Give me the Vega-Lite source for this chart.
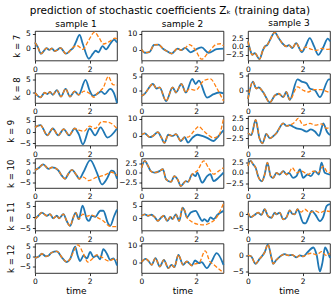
{
"$schema":"https://vega.github.io/schema/vega-lite/v6.json",
"title":{"text":"prediction of stochastic coefficients Zₖ (training data)","fontSize":10.5,"fontWeight":"normal","color":"#000","anchor":"middle","offset":2},
"columns":3,
"spacing":{"row":12.5,"column":24.5},
"bounds":"flush",
"config":{
"font":"DejaVu Sans",
"view":{"stroke":"#000","strokeWidth":0.8},
"axis":{"domain":false,"grid":false,"tickColor":"#000","tickWidth":0.8,"tickSize":2.6,"labelFontSize":7.5,"labelColor":"#000","labelPadding":2,"titleFontWeight":"normal","titleColor":"#000","labelOverlap":false,"labelBound":false},
"axisY":{"titleFontSize":8.5,"titlePadding":4},
"axisX":{"titleFontSize":9,"titlePadding":1,"labelFlush":false},
"title":{"fontSize":9,"fontWeight":"normal","color":"#000","offset":1},
"line":{"interpolate":"monotone","clip":true}
},
"datasets":{
"a71":[{"t":0,"v":2.0},{"t":0.1,"v":0.5},{"t":0.22,"v":-1.8},{"t":0.32,"v":-0.9},{"t":0.42,"v":0.1},{"t":0.52,"v":-0.5},{"t":0.62,"v":0.0},{"t":0.72,"v":-0.9},{"t":0.82,"v":-0.5},{"t":0.93,"v":0.2},{"t":1.13,"v":-1.8},{"t":1.3,"v":-0.6},{"t":1.4,"v":0.2},{"t":1.5,"v":2.2},{"t":1.63,"v":4.6},{"t":1.75,"v":1.5},{"t":1.97,"v":-3.5},{"t":2.12,"v":-1.8},{"t":2.22,"v":-0.8},{"t":2.32,"v":-1.3},{"t":2.47,"v":0.8},{"t":2.6,"v":-0.3},{"t":2.75,"v":1.5},{"t":2.9,"v":3.0},{"t":3.0,"v":2.0}],
"b71":[{"t":0,"v":2.0},{"t":0.1,"v":0.5},{"t":0.22,"v":-1.8},{"t":0.32,"v":-0.9},{"t":0.42,"v":0.1},{"t":0.52,"v":-0.5},{"t":0.62,"v":0.0},{"t":0.72,"v":-0.9},{"t":0.82,"v":-0.5},{"t":0.93,"v":0.2},{"t":1.13,"v":-1.8},{"t":1.3,"v":-0.6},{"t":1.42,"v":0.6},{"t":1.55,"v":0.9},{"t":1.75,"v":-0.3},{"t":1.95,"v":2.5},{"t":2.18,"v":5.5},{"t":2.35,"v":3.5},{"t":2.5,"v":1.5},{"t":2.7,"v":2.2},{"t":2.93,"v":3.5},{"t":3.0,"v":3.2}],
"a72":[{"t":0,"v":0.3},{"t":0.12,"v":-1.8},{"t":0.3,"v":-1.2},{"t":0.46,"v":3.1},{"t":0.62,"v":3.3},{"t":0.8,"v":0.5},{"t":0.95,"v":-1.0},{"t":1.1,"v":-2.3},{"t":1.32,"v":0.8},{"t":1.45,"v":-0.2},{"t":1.6,"v":1.2},{"t":1.8,"v":-1.5},{"t":2.05,"v":0.8},{"t":2.2,"v":1.5},{"t":2.45,"v":-1.8},{"t":2.75,"v":0.4},{"t":3.0,"v":0.8}],
"b72":[{"t":0,"v":0.3},{"t":0.12,"v":-1.8},{"t":0.3,"v":-1.2},{"t":0.46,"v":3.1},{"t":0.62,"v":3.3},{"t":0.8,"v":0.5},{"t":0.95,"v":-1.0},{"t":1.1,"v":-2.3},{"t":1.32,"v":0.8},{"t":1.45,"v":-0.2},{"t":1.6,"v":1.2},{"t":1.75,"v":3.3},{"t":1.95,"v":0.5},{"t":2.2,"v":-5.8},{"t":2.45,"v":-1.5},{"t":2.75,"v":3.5},{"t":2.9,"v":3.8},{"t":3.0,"v":2.5}],
"a73":[{"t":0,"v":1.5},{"t":0.08,"v":-1.0},{"t":0.15,"v":-2.5},{"t":0.25,"v":-2.0},{"t":0.42,"v":-3.8},{"t":0.55,"v":-1.0},{"t":0.62,"v":0.0},{"t":0.7,"v":0.4},{"t":0.78,"v":1.5},{"t":0.98,"v":4.2},{"t":1.12,"v":2.5},{"t":1.25,"v":1.0},{"t":1.4,"v":0.0},{"t":1.5,"v":0.4},{"t":1.62,"v":-0.5},{"t":1.76,"v":1.0},{"t":1.97,"v":-1.7},{"t":2.1,"v":0.0},{"t":2.26,"v":2.5},{"t":2.42,"v":0.0},{"t":2.57,"v":-2.5},{"t":2.75,"v":-0.3},{"t":2.92,"v":2.3},{"t":3.0,"v":1.5}],
"b73":[{"t":0,"v":1.5},{"t":0.08,"v":-1.0},{"t":0.15,"v":-2.5},{"t":0.25,"v":-2.0},{"t":0.42,"v":-3.8},{"t":0.55,"v":-1.0},{"t":0.62,"v":0.0},{"t":0.7,"v":0.4},{"t":0.78,"v":1.5},{"t":0.98,"v":4.2},{"t":1.12,"v":2.5},{"t":1.25,"v":1.0},{"t":1.4,"v":0.0},{"t":1.5,"v":0.4},{"t":1.62,"v":-0.5},{"t":1.76,"v":1.0},{"t":1.95,"v":-1.3},{"t":2.1,"v":-0.2},{"t":2.3,"v":-0.8},{"t":2.5,"v":-1.2},{"t":2.7,"v":-0.6},{"t":2.85,"v":-0.9},{"t":3.0,"v":-0.8}],
"a81":[{"t":0,"v":0.0},{"t":0.2,"v":-1.8},{"t":0.35,"v":0.0},{"t":0.45,"v":-0.5},{"t":0.55,"v":0.3},{"t":0.65,"v":-0.8},{"t":0.8,"v":1.0},{"t":0.95,"v":-1.5},{"t":1.12,"v":1.5},{"t":1.28,"v":-1.5},{"t":1.45,"v":0.5},{"t":1.6,"v":-0.8},{"t":1.85,"v":5.0},{"t":2.0,"v":0.8},{"t":2.12,"v":-1.2},{"t":2.3,"v":-0.3},{"t":2.42,"v":0.5},{"t":2.55,"v":-0.5},{"t":2.75,"v":1.5},{"t":2.88,"v":0.0},{"t":3.0,"v":-4.0}],
"b81":[{"t":0,"v":0.0},{"t":0.2,"v":-1.8},{"t":0.35,"v":0.0},{"t":0.45,"v":-0.5},{"t":0.55,"v":0.3},{"t":0.65,"v":-0.8},{"t":0.8,"v":1.0},{"t":0.95,"v":-1.5},{"t":1.12,"v":1.5},{"t":1.28,"v":-1.5},{"t":1.45,"v":0.5},{"t":1.6,"v":-0.8},{"t":1.8,"v":0.6},{"t":2.0,"v":-0.3},{"t":2.15,"v":-1.8},{"t":2.3,"v":0.0},{"t":2.5,"v":2.0},{"t":2.68,"v":6.3},{"t":2.85,"v":3.2},{"t":3.0,"v":3.0}],
"a82":[{"t":0,"v":-1.8},{"t":0.1,"v":-1.2},{"t":0.42,"v":2.4},{"t":0.55,"v":0.8},{"t":0.66,"v":1.2},{"t":0.9,"v":-3.6},{"t":1.14,"v":1.2},{"t":1.26,"v":-0.6},{"t":1.46,"v":2.4},{"t":1.62,"v":-0.6},{"t":1.86,"v":4.2},{"t":1.98,"v":2.4},{"t":2.1,"v":3.6},{"t":2.4,"v":-2.4},{"t":2.64,"v":-1.2},{"t":2.85,"v":-0.6},{"t":3.0,"v":-0.9}],
"b82":[{"t":0,"v":-1.8},{"t":0.1,"v":-1.2},{"t":0.42,"v":2.4},{"t":0.55,"v":0.8},{"t":0.66,"v":1.2},{"t":0.9,"v":-3.6},{"t":1.14,"v":1.2},{"t":1.26,"v":-0.6},{"t":1.46,"v":2.4},{"t":1.62,"v":-0.6},{"t":1.74,"v":0.6},{"t":1.98,"v":0.2},{"t":2.28,"v":3.6},{"t":2.52,"v":4.2},{"t":2.75,"v":1.0},{"t":3.0,"v":-3.6}],
"a83":[{"t":0,"v":-3.0},{"t":0.18,"v":3.0},{"t":0.3,"v":0.6},{"t":0.39,"v":1.0},{"t":0.55,"v":-0.6},{"t":0.8,"v":-4.2},{"t":0.98,"v":-1.8},{"t":1.13,"v":-1.2},{"t":1.29,"v":-2.4},{"t":1.4,"v":-0.6},{"t":1.53,"v":-3.3},{"t":1.81,"v":3.8},{"t":1.96,"v":3.0},{"t":2.14,"v":2.4},{"t":2.26,"v":0.6},{"t":2.45,"v":0.0},{"t":2.63,"v":-2.4},{"t":2.96,"v":3.8},{"t":3.0,"v":3.8}],
"b83":[{"t":0,"v":-3.0},{"t":0.18,"v":3.0},{"t":0.3,"v":0.6},{"t":0.39,"v":1.0},{"t":0.55,"v":-0.6},{"t":0.8,"v":-4.2},{"t":0.98,"v":-1.8},{"t":1.13,"v":-1.2},{"t":1.29,"v":-2.4},{"t":1.4,"v":-0.6},{"t":1.53,"v":-3.3},{"t":1.81,"v":1.2},{"t":2.02,"v":0.0},{"t":2.2,"v":-0.6},{"t":2.39,"v":0.2},{"t":2.69,"v":0.2},{"t":2.96,"v":-0.6},{"t":3.0,"v":-0.5}],
"a91":[{"t":0,"v":2.0},{"t":0.2,"v":3.0},{"t":0.45,"v":-1.5},{"t":0.65,"v":1.5},{"t":0.85,"v":-1.5},{"t":1.05,"v":1.2},{"t":1.25,"v":-1.5},{"t":1.45,"v":1.5},{"t":1.6,"v":-1.0},{"t":1.75,"v":-5.5},{"t":2.0,"v":1.5},{"t":2.2,"v":-1.5},{"t":2.4,"v":2.0},{"t":2.65,"v":-2.5},{"t":3.0,"v":1.5}],
"b91":[{"t":0,"v":2.0},{"t":0.2,"v":3.0},{"t":0.45,"v":-1.5},{"t":0.65,"v":1.5},{"t":0.85,"v":-1.5},{"t":1.05,"v":1.2},{"t":1.25,"v":-1.5},{"t":1.45,"v":1.5},{"t":1.6,"v":0.8},{"t":1.8,"v":0.3},{"t":2.0,"v":2.5},{"t":2.2,"v":1.5},{"t":2.45,"v":4.5},{"t":2.7,"v":4.2},{"t":3.0,"v":1.5}],
"a92":[{"t":0,"v":0.7},{"t":0.12,"v":1.5},{"t":0.3,"v":-0.7},{"t":0.42,"v":0.0},{"t":0.6,"v":2.2},{"t":0.72,"v":-0.7},{"t":0.84,"v":-4.0},{"t":0.98,"v":0.7},{"t":1.14,"v":0.0},{"t":1.26,"v":1.0},{"t":1.44,"v":-2.9},{"t":1.58,"v":-0.7},{"t":1.7,"v":-3.8},{"t":1.86,"v":-1.1},{"t":2.04,"v":0.7},{"t":2.22,"v":0.0},{"t":2.4,"v":-1.1},{"t":2.64,"v":-2.9},{"t":2.76,"v":-1.1},{"t":2.86,"v":0.7},{"t":3.0,"v":3.3}],
"b92":[{"t":0,"v":0.7},{"t":0.12,"v":1.5},{"t":0.3,"v":-0.7},{"t":0.42,"v":0.0},{"t":0.6,"v":2.2},{"t":0.72,"v":-0.7},{"t":0.84,"v":-4.0},{"t":0.98,"v":0.7},{"t":1.14,"v":0.0},{"t":1.26,"v":1.0},{"t":1.44,"v":-2.9},{"t":1.58,"v":-0.7},{"t":1.7,"v":-0.7},{"t":1.92,"v":2.9},{"t":2.1,"v":5.5},{"t":2.22,"v":3.8},{"t":2.4,"v":1.1},{"t":2.64,"v":-1.1},{"t":2.82,"v":0.0},{"t":3.0,"v":10.0}],
"a93":[{"t":0,"v":-1.2},{"t":0.12,"v":-1.7},{"t":0.28,"v":2.1},{"t":0.42,"v":-2.5},{"t":0.53,"v":-3.75},{"t":0.67,"v":-1.4},{"t":0.8,"v":-2.5},{"t":0.92,"v":-2.0},{"t":1.04,"v":-1.2},{"t":1.29,"v":1.25},{"t":1.41,"v":0.6},{"t":1.53,"v":0.8},{"t":1.65,"v":0.4},{"t":1.77,"v":0.0},{"t":1.96,"v":-0.25},{"t":2.14,"v":-0.8},{"t":2.3,"v":-0.25},{"t":2.45,"v":-0.8},{"t":2.6,"v":-1.9},{"t":2.69,"v":0.0},{"t":2.75,"v":1.25},{"t":2.9,"v":-1.0},{"t":3.0,"v":-1.7}],
"b93":[{"t":0,"v":-1.2},{"t":0.12,"v":-1.7},{"t":0.28,"v":2.1},{"t":0.42,"v":-2.5},{"t":0.53,"v":-3.75},{"t":0.67,"v":-1.4},{"t":0.8,"v":-2.5},{"t":0.92,"v":-2.0},{"t":1.04,"v":-1.2},{"t":1.29,"v":1.25},{"t":1.41,"v":0.6},{"t":1.53,"v":0.8},{"t":1.7,"v":1.5},{"t":1.84,"v":2.5},{"t":2.02,"v":0.8},{"t":2.27,"v":1.25},{"t":2.45,"v":0.8},{"t":2.69,"v":1.1},{"t":2.88,"v":0.0},{"t":3.0,"v":0.25}],
"a101":[{"t":0,"v":1.0},{"t":0.12,"v":2.0},{"t":0.3,"v":4.0},{"t":0.5,"v":1.7},{"t":0.62,"v":2.5},{"t":0.73,"v":2.2},{"t":0.86,"v":0.8},{"t":0.98,"v":-1.7},{"t":1.1,"v":-3.3},{"t":1.22,"v":-0.8},{"t":1.35,"v":1.2},{"t":1.53,"v":-1.7},{"t":1.62,"v":-3.3},{"t":1.77,"v":0.0},{"t":2.02,"v":6.2},{"t":2.26,"v":0.0},{"t":2.45,"v":-6.2},{"t":2.63,"v":-3.3},{"t":2.8,"v":0.8},{"t":2.88,"v":0.5},{"t":3.0,"v":-3.3}],
"b101":[{"t":0,"v":1.0},{"t":0.12,"v":2.0},{"t":0.3,"v":4.0},{"t":0.5,"v":1.7},{"t":0.62,"v":2.5},{"t":0.73,"v":2.2},{"t":0.86,"v":0.8},{"t":0.98,"v":-1.7},{"t":1.1,"v":-3.3},{"t":1.22,"v":-0.8},{"t":1.35,"v":1.2},{"t":1.53,"v":-1.7},{"t":1.62,"v":-3.3},{"t":1.77,"v":-2.5},{"t":1.96,"v":-4.2},{"t":2.26,"v":-2.5},{"t":2.5,"v":-1.7},{"t":2.8,"v":0.0},{"t":3.0,"v":-1.7}],
"a102":[{"t":0,"v":1.3},{"t":0.12,"v":3.1},{"t":0.24,"v":1.75},{"t":0.34,"v":0.4},{"t":0.48,"v":0.0},{"t":0.66,"v":0.4},{"t":0.78,"v":0.9},{"t":0.9,"v":-1.75},{"t":1.08,"v":-2.4},{"t":1.2,"v":-0.9},{"t":1.32,"v":-1.75},{"t":1.44,"v":-3.5},{"t":1.62,"v":-2.2},{"t":1.7,"v":-2.4},{"t":1.86,"v":-0.4},{"t":1.98,"v":-0.9},{"t":2.04,"v":0.0},{"t":2.22,"v":-2.6},{"t":2.4,"v":-0.9},{"t":2.52,"v":-0.4},{"t":2.64,"v":-2.2},{"t":2.82,"v":-1.3},{"t":3.0,"v":0.0}],
"b102":[{"t":0,"v":1.3},{"t":0.12,"v":3.1},{"t":0.24,"v":1.75},{"t":0.34,"v":0.4},{"t":0.48,"v":0.0},{"t":0.66,"v":0.4},{"t":0.78,"v":0.9},{"t":0.9,"v":-1.75},{"t":1.08,"v":-2.4},{"t":1.2,"v":-0.9},{"t":1.32,"v":-1.75},{"t":1.44,"v":-3.5},{"t":1.62,"v":-2.2},{"t":1.7,"v":-2.4},{"t":1.86,"v":-0.4},{"t":2.04,"v":0.5},{"t":2.28,"v":3.1},{"t":2.45,"v":1.3},{"t":2.64,"v":-0.4},{"t":2.82,"v":0.4},{"t":3.0,"v":1.3}],
"a103":[{"t":0,"v":1.6},{"t":0.09,"v":2.9},{"t":0.19,"v":2.0},{"t":0.28,"v":1.2},{"t":0.37,"v":-0.8},{"t":0.51,"v":-2.0},{"t":0.61,"v":-0.4},{"t":0.71,"v":2.4},{"t":0.83,"v":-0.8},{"t":0.92,"v":-1.2},{"t":1.04,"v":0.0},{"t":1.16,"v":-0.4},{"t":1.29,"v":0.4},{"t":1.41,"v":-0.4},{"t":1.5,"v":0.0},{"t":1.65,"v":-1.2},{"t":1.77,"v":-0.8},{"t":1.9,"v":0.8},{"t":2.02,"v":-1.2},{"t":2.18,"v":-0.4},{"t":2.3,"v":-0.8},{"t":2.45,"v":0.4},{"t":2.59,"v":-0.4},{"t":2.69,"v":2.4},{"t":2.81,"v":0.0},{"t":3.0,"v":-0.4}],
"b103":[{"t":0,"v":1.6},{"t":0.09,"v":2.9},{"t":0.19,"v":2.0},{"t":0.28,"v":1.2},{"t":0.37,"v":-0.8},{"t":0.51,"v":-2.0},{"t":0.61,"v":-0.4},{"t":0.71,"v":2.4},{"t":0.83,"v":-0.8},{"t":0.92,"v":-1.2},{"t":1.04,"v":0.0},{"t":1.16,"v":-0.4},{"t":1.29,"v":0.4},{"t":1.41,"v":-0.4},{"t":1.5,"v":0.0},{"t":1.62,"v":1.2},{"t":1.77,"v":0.0},{"t":1.95,"v":0.4},{"t":2.2,"v":-0.4},{"t":2.39,"v":0.4},{"t":2.57,"v":0.0},{"t":2.75,"v":1.6},{"t":2.9,"v":0.2},{"t":3.0,"v":0.0}],
"a111":[{"t":0,"v":-1.0},{"t":0.12,"v":0.5},{"t":0.25,"v":1.9},{"t":0.43,"v":0.5},{"t":0.55,"v":1.2},{"t":0.67,"v":-0.6},{"t":0.8,"v":0.5},{"t":0.88,"v":-0.6},{"t":1.04,"v":1.2},{"t":1.16,"v":-1.8},{"t":1.28,"v":-4.0},{"t":1.41,"v":0.0},{"t":1.49,"v":1.9},{"t":1.6,"v":-1.0},{"t":1.74,"v":4.9},{"t":1.9,"v":-1.0},{"t":1.98,"v":-1.8},{"t":2.08,"v":0.5},{"t":2.2,"v":0.0},{"t":2.39,"v":2.7},{"t":2.5,"v":2.7},{"t":2.66,"v":-2.5},{"t":2.75,"v":-4.0},{"t":2.9,"v":0.5},{"t":3.0,"v":3.2}],
"b111":[{"t":0,"v":-1.0},{"t":0.12,"v":0.5},{"t":0.25,"v":1.9},{"t":0.43,"v":0.5},{"t":0.55,"v":1.2},{"t":0.67,"v":-0.6},{"t":0.8,"v":0.5},{"t":0.88,"v":-0.6},{"t":1.04,"v":1.2},{"t":1.16,"v":-1.8},{"t":1.28,"v":-4.0},{"t":1.41,"v":0.0},{"t":1.49,"v":1.9},{"t":1.6,"v":-1.0},{"t":1.75,"v":1.2},{"t":1.9,"v":0.3},{"t":2.05,"v":0.8},{"t":2.2,"v":0.2},{"t":2.5,"v":-1.8},{"t":2.75,"v":-4.2},{"t":3.0,"v":-4.3}],
"a112":[{"t":0,"v":1.0},{"t":0.12,"v":1.6},{"t":0.24,"v":1.0},{"t":0.36,"v":1.4},{"t":0.48,"v":0.5},{"t":0.6,"v":-1.1},{"t":0.72,"v":0.3},{"t":0.82,"v":1.0},{"t":0.94,"v":-1.1},{"t":1.06,"v":0.5},{"t":1.14,"v":-0.4},{"t":1.26,"v":1.6},{"t":1.38,"v":-1.1},{"t":1.5,"v":4.3},{"t":1.58,"v":3.0},{"t":1.66,"v":0.3},{"t":1.8,"v":2.3},{"t":1.98,"v":3.0},{"t":2.13,"v":0.3},{"t":2.22,"v":-1.1},{"t":2.3,"v":-0.4},{"t":2.42,"v":-1.4},{"t":2.52,"v":0.3},{"t":2.64,"v":-0.4},{"t":2.78,"v":1.4},{"t":3.0,"v":3.0}],
"b112":[{"t":0,"v":1.0},{"t":0.12,"v":1.6},{"t":0.24,"v":1.0},{"t":0.36,"v":1.4},{"t":0.48,"v":0.5},{"t":0.6,"v":-1.1},{"t":0.72,"v":0.3},{"t":0.82,"v":1.0},{"t":0.94,"v":-1.1},{"t":1.06,"v":0.5},{"t":1.14,"v":-0.4},{"t":1.26,"v":1.6},{"t":1.38,"v":-1.1},{"t":1.5,"v":4.3},{"t":1.58,"v":3.0},{"t":1.66,"v":0.3},{"t":1.8,"v":-1.1},{"t":2.04,"v":-2.4},{"t":2.28,"v":-2.7},{"t":2.52,"v":-1.8},{"t":2.7,"v":-0.4},{"t":2.88,"v":3.0},{"t":3.0,"v":6.0}],
"a113":[{"t":0,"v":0.6},{"t":0.1,"v":-1.0},{"t":0.24,"v":-0.2},{"t":0.37,"v":0.6},{"t":0.49,"v":-0.2},{"t":0.61,"v":1.8},{"t":0.73,"v":-0.6},{"t":0.86,"v":-1.2},{"t":0.98,"v":0.6},{"t":1.04,"v":0.0},{"t":1.16,"v":0.6},{"t":1.29,"v":-1.8},{"t":1.41,"v":-1.0},{"t":1.53,"v":1.4},{"t":1.62,"v":0.2},{"t":1.71,"v":0.0},{"t":1.81,"v":1.8},{"t":2.02,"v":-3.0},{"t":2.1,"v":-3.2},{"t":2.22,"v":-1.0},{"t":2.33,"v":1.2},{"t":2.47,"v":-0.2},{"t":2.63,"v":-2.4},{"t":2.75,"v":-1.0},{"t":2.88,"v":3.0},{"t":3.0,"v":3.6}],
"b113":[{"t":0,"v":0.6},{"t":0.1,"v":-1.0},{"t":0.24,"v":-0.2},{"t":0.37,"v":0.6},{"t":0.49,"v":-0.2},{"t":0.61,"v":1.8},{"t":0.73,"v":-0.6},{"t":0.86,"v":-1.2},{"t":0.98,"v":0.6},{"t":1.04,"v":0.0},{"t":1.16,"v":0.6},{"t":1.29,"v":-1.8},{"t":1.41,"v":-1.0},{"t":1.53,"v":1.4},{"t":1.62,"v":0.2},{"t":1.71,"v":0.0},{"t":1.81,"v":1.8},{"t":1.95,"v":0.8},{"t":2.08,"v":1.8},{"t":2.26,"v":0.6},{"t":2.45,"v":1.2},{"t":2.63,"v":0.6},{"t":2.82,"v":1.2},{"t":3.0,"v":1.0}],
"a121":[{"t":0,"v":-0.9},{"t":0.15,"v":0.0},{"t":0.25,"v":1.3},{"t":0.4,"v":0.0},{"t":0.5,"v":0.4},{"t":0.6,"v":1.8},{"t":0.8,"v":2.5},{"t":0.98,"v":-0.5},{"t":1.16,"v":-2.9},{"t":1.28,"v":-1.5},{"t":1.47,"v":4.9},{"t":1.56,"v":0.4},{"t":1.65,"v":-2.4},{"t":1.78,"v":0.4},{"t":1.9,"v":-1.1},{"t":2.02,"v":2.2},{"t":2.14,"v":-0.5},{"t":2.26,"v":0.4},{"t":2.38,"v":-1.5},{"t":2.5,"v":3.6},{"t":2.63,"v":1.3},{"t":2.75,"v":-1.8},{"t":2.87,"v":-1.1},{"t":3.0,"v":-4.7}],
"b121":[{"t":0,"v":-0.9},{"t":0.15,"v":0.0},{"t":0.25,"v":1.3},{"t":0.4,"v":0.0},{"t":0.5,"v":0.4},{"t":0.6,"v":1.8},{"t":0.8,"v":2.5},{"t":0.98,"v":-0.5},{"t":1.16,"v":-2.9},{"t":1.28,"v":-1.5},{"t":1.4,"v":2.0},{"t":1.57,"v":5.8},{"t":1.77,"v":1.3},{"t":1.93,"v":-2.9},{"t":2.08,"v":-1.5},{"t":2.26,"v":0.7},{"t":2.45,"v":-0.5},{"t":2.7,"v":-2.4},{"t":2.87,"v":-1.5},{"t":3.0,"v":-1.8}],
"a122":[{"t":0,"v":0.0},{"t":0.15,"v":2.0},{"t":0.25,"v":0.8},{"t":0.37,"v":-1.6},{"t":0.51,"v":2.4},{"t":0.67,"v":-2.6},{"t":0.82,"v":1.4},{"t":0.98,"v":-3.6},{"t":1.1,"v":-1.6},{"t":1.2,"v":-3.0},{"t":1.35,"v":4.4},{"t":1.52,"v":-1.6},{"t":1.66,"v":0.4},{"t":1.84,"v":-2.0},{"t":1.96,"v":1.0},{"t":2.1,"v":-0.5},{"t":2.2,"v":0.0},{"t":2.39,"v":-3.6},{"t":2.55,"v":0.0},{"t":2.75,"v":5.4},{"t":3.0,"v":-1.6}],
"b122":[{"t":0,"v":0.0},{"t":0.15,"v":2.0},{"t":0.25,"v":0.8},{"t":0.37,"v":-1.6},{"t":0.51,"v":2.4},{"t":0.67,"v":-2.6},{"t":0.82,"v":1.4},{"t":0.98,"v":-3.6},{"t":1.1,"v":-1.6},{"t":1.2,"v":-3.0},{"t":1.35,"v":4.4},{"t":1.52,"v":-1.6},{"t":1.66,"v":0.4},{"t":1.84,"v":-2.0},{"t":1.96,"v":-1.0},{"t":2.1,"v":-0.6},{"t":2.33,"v":6.8},{"t":2.5,"v":0.4},{"t":2.65,"v":-1.6},{"t":3.0,"v":-6.4}],
"a123":[{"t":0,"v":0.0},{"t":0.12,"v":-0.3},{"t":0.27,"v":-2.6},{"t":0.43,"v":-1.0},{"t":0.61,"v":1.0},{"t":0.73,"v":3.5},{"t":0.86,"v":-0.8},{"t":0.92,"v":-2.6},{"t":1.04,"v":-1.4},{"t":1.22,"v":0.0},{"t":1.35,"v":0.4},{"t":1.47,"v":0.0},{"t":1.62,"v":0.2},{"t":1.77,"v":-0.6},{"t":1.9,"v":0.0},{"t":2.02,"v":-0.3},{"t":2.18,"v":1.0},{"t":2.39,"v":2.5},{"t":2.51,"v":0.2},{"t":2.63,"v":-5.0},{"t":2.72,"v":-2.4},{"t":2.82,"v":2.5},{"t":2.92,"v":1.0},{"t":3.0,"v":-0.8}],
"b123":[{"t":0,"v":0.0},{"t":0.12,"v":-0.3},{"t":0.27,"v":-2.6},{"t":0.43,"v":-1.0},{"t":0.61,"v":1.0},{"t":0.73,"v":3.5},{"t":0.86,"v":-0.8},{"t":0.92,"v":-2.6},{"t":1.04,"v":-1.4},{"t":1.22,"v":0.0},{"t":1.35,"v":0.4},{"t":1.47,"v":0.0},{"t":1.62,"v":0.2},{"t":1.77,"v":-0.6},{"t":1.9,"v":0.0},{"t":2.02,"v":-0.3},{"t":2.18,"v":0.4},{"t":2.33,"v":0.7},{"t":2.51,"v":0.2},{"t":2.69,"v":1.2},{"t":2.86,"v":0.0},{"t":3.0,"v":0.7}]
},
"concat":[
{"width":82,"height":29.5,"title":"sample 1","encoding":{"x":{"field":"t","type":"quantitative","scale":{"domain":[0,3],"nice":false},"axis":{"values":[0,2],"title":null}},"y":{"field":"v","type":"quantitative","scale":{"domain":[-4.1,5.9],"nice":false,"zero":false},"axis":{"values":[0,5],"format":"d","title":"k = 7"}}},"layer":[{"data":{"name":"a71"},"mark":{"type":"line","color":"#1f77b4","strokeWidth":1.8}},{"data":{"name":"b71"},"mark":{"type":"line","color":"#ff7f0e","strokeWidth":1.3,"strokeDash":[4,2]}}]},
{"width":82,"height":29.5,"title":"sample 2","encoding":{"x":{"field":"t","type":"quantitative","scale":{"domain":[0,3],"nice":false},"axis":{"values":[0,2],"title":null}},"y":{"field":"v","type":"quantitative","scale":{"domain":[-6.6,11.7],"nice":false,"zero":false},"axis":{"values":[0,10],"format":"d","title":null}}},"layer":[{"data":{"name":"a72"},"mark":{"type":"line","color":"#1f77b4","strokeWidth":1.8}},{"data":{"name":"b72"},"mark":{"type":"line","color":"#ff7f0e","strokeWidth":1.3,"strokeDash":[4,2]}}]},
{"width":82,"height":29.5,"title":"sample 3","encoding":{"x":{"field":"t","type":"quantitative","scale":{"domain":[0,3],"nice":false},"axis":{"values":[0,2],"title":null}},"y":{"field":"v","type":"quantitative","scale":{"domain":[-4.2,4.6],"nice":false,"zero":false},"axis":{"values":[-2.5,0,2.5],"format":".1f","title":null}}},"layer":[{"data":{"name":"a73"},"mark":{"type":"line","color":"#1f77b4","strokeWidth":1.8}},{"data":{"name":"b73"},"mark":{"type":"line","color":"#ff7f0e","strokeWidth":1.3,"strokeDash":[4,2]}}]},
{"width":82,"height":29.5,"encoding":{"x":{"field":"t","type":"quantitative","scale":{"domain":[0,3],"nice":false},"axis":{"values":[0,2],"title":null}},"y":{"field":"v","type":"quantitative","scale":{"domain":[-4,7.5],"nice":false,"zero":false},"axis":{"values":[0,5],"format":"d","title":"k = 8"}}},"layer":[{"data":{"name":"a81"},"mark":{"type":"line","color":"#1f77b4","strokeWidth":1.8}},{"data":{"name":"b81"},"mark":{"type":"line","color":"#ff7f0e","strokeWidth":1.3,"strokeDash":[4,2]}}]},
{"width":82,"height":29.5,"encoding":{"x":{"field":"t","type":"quantitative","scale":{"domain":[0,3],"nice":false},"axis":{"values":[0,2],"title":null}},"y":{"field":"v","type":"quantitative","scale":{"domain":[-4.3,6.1],"nice":false,"zero":false},"axis":{"values":[0,5],"format":"d","title":null}}},"layer":[{"data":{"name":"a82"},"mark":{"type":"line","color":"#1f77b4","strokeWidth":1.8}},{"data":{"name":"b82"},"mark":{"type":"line","color":"#ff7f0e","strokeWidth":1.3,"strokeDash":[4,2]}}]},
{"width":82,"height":29.5,"encoding":{"x":{"field":"t","type":"quantitative","scale":{"domain":[0,3],"nice":false},"axis":{"values":[0,2],"title":null}},"y":{"field":"v","type":"quantitative","scale":{"domain":[-4.4,5.8],"nice":false,"zero":false},"axis":{"values":[0,5],"format":"d","title":null}}},"layer":[{"data":{"name":"a83"},"mark":{"type":"line","color":"#1f77b4","strokeWidth":1.8}},{"data":{"name":"b83"},"mark":{"type":"line","color":"#ff7f0e","strokeWidth":1.3,"strokeDash":[4,2]}}]},
{"width":82,"height":29.5,"encoding":{"x":{"field":"t","type":"quantitative","scale":{"domain":[0,3],"nice":false},"axis":{"values":[0,2],"title":null}},"y":{"field":"v","type":"quantitative","scale":{"domain":[-6,7],"nice":false,"zero":false},"axis":{"values":[-5,0,5],"format":"d","title":"k = 9"}}},"layer":[{"data":{"name":"a91"},"mark":{"type":"line","color":"#1f77b4","strokeWidth":1.8}},{"data":{"name":"b91"},"mark":{"type":"line","color":"#ff7f0e","strokeWidth":1.3,"strokeDash":[4,2]}}]},
{"width":82,"height":29.5,"encoding":{"x":{"field":"t","type":"quantitative","scale":{"domain":[0,3],"nice":false},"axis":{"values":[0,2],"title":null}},"y":{"field":"v","type":"quantitative","scale":{"domain":[-5.5,11.5],"nice":false,"zero":false},"axis":{"values":[0,10],"format":"d","title":null}}},"layer":[{"data":{"name":"a92"},"mark":{"type":"line","color":"#1f77b4","strokeWidth":1.8}},{"data":{"name":"b92"},"mark":{"type":"line","color":"#ff7f0e","strokeWidth":1.3,"strokeDash":[4,2]}}]},
{"width":82,"height":29.5,"encoding":{"x":{"field":"t","type":"quantitative","scale":{"domain":[0,3],"nice":false},"axis":{"values":[0,2],"title":null}},"y":{"field":"v","type":"quantitative","scale":{"domain":[-4.3,3.1],"nice":false,"zero":false},"axis":{"values":[-2.5,0,2.5],"format":".1f","title":null}}},"layer":[{"data":{"name":"a93"},"mark":{"type":"line","color":"#1f77b4","strokeWidth":1.8}},{"data":{"name":"b93"},"mark":{"type":"line","color":"#ff7f0e","strokeWidth":1.3,"strokeDash":[4,2]}}]},
{"width":82,"height":29.5,"encoding":{"x":{"field":"t","type":"quantitative","scale":{"domain":[0,3],"nice":false},"axis":{"values":[0,2],"title":null}},"y":{"field":"v","type":"quantitative","scale":{"domain":[-8,7],"nice":false,"zero":false},"axis":{"values":[-5,0,5],"format":"d","title":"k = 10"}}},"layer":[{"data":{"name":"a101"},"mark":{"type":"line","color":"#1f77b4","strokeWidth":1.8}},{"data":{"name":"b101"},"mark":{"type":"line","color":"#ff7f0e","strokeWidth":1.3,"strokeDash":[4,2]}}]},
{"width":82,"height":29.5,"encoding":{"x":{"field":"t","type":"quantitative","scale":{"domain":[0,3],"nice":false},"axis":{"values":[0,2],"title":null}},"y":{"field":"v","type":"quantitative","scale":{"domain":[-4,3.7],"nice":false,"zero":false},"axis":{"values":[-2.5,0,2.5],"format":".1f","title":null}}},"layer":[{"data":{"name":"a102"},"mark":{"type":"line","color":"#1f77b4","strokeWidth":1.8}},{"data":{"name":"b102"},"mark":{"type":"line","color":"#ff7f0e","strokeWidth":1.3,"strokeDash":[4,2]}}]},
{"width":82,"height":29.5,"encoding":{"x":{"field":"t","type":"quantitative","scale":{"domain":[0,3],"nice":false},"axis":{"values":[0,2],"title":null}},"y":{"field":"v","type":"quantitative","scale":{"domain":[-3.6,3.4],"nice":false,"zero":false},"axis":{"values":[-2.5,0,2.5],"format":".1f","title":null}}},"layer":[{"data":{"name":"a103"},"mark":{"type":"line","color":"#1f77b4","strokeWidth":1.8}},{"data":{"name":"b103"},"mark":{"type":"line","color":"#ff7f0e","strokeWidth":1.3,"strokeDash":[4,2]}}]},
{"width":82,"height":29.5,"encoding":{"x":{"field":"t","type":"quantitative","scale":{"domain":[0,3],"nice":false},"axis":{"values":[0,2],"title":null}},"y":{"field":"v","type":"quantitative","scale":{"domain":[-6,7],"nice":false,"zero":false},"axis":{"values":[-5,0,5],"format":"d","title":"k = 11"}}},"layer":[{"data":{"name":"a111"},"mark":{"type":"line","color":"#1f77b4","strokeWidth":1.8}},{"data":{"name":"b111"},"mark":{"type":"line","color":"#ff7f0e","strokeWidth":1.3,"strokeDash":[4,2]}}]},
{"width":82,"height":29.5,"encoding":{"x":{"field":"t","type":"quantitative","scale":{"domain":[0,3],"nice":false},"axis":{"values":[0,2],"title":null}},"y":{"field":"v","type":"quantitative","scale":{"domain":[-5,7],"nice":false,"zero":false},"axis":{"values":[0,5],"format":"d","title":null}}},"layer":[{"data":{"name":"a112"},"mark":{"type":"line","color":"#1f77b4","strokeWidth":1.8}},{"data":{"name":"b112"},"mark":{"type":"line","color":"#ff7f0e","strokeWidth":1.3,"strokeDash":[4,2]}}]},
{"width":82,"height":29.5,"encoding":{"x":{"field":"t","type":"quantitative","scale":{"domain":[0,3],"nice":false},"axis":{"values":[0,2],"title":null}},"y":{"field":"v","type":"quantitative","scale":{"domain":[-5.7,4.7],"nice":false,"zero":false},"axis":{"values":[-5,0],"format":"d","title":null}}},"layer":[{"data":{"name":"a113"},"mark":{"type":"line","color":"#1f77b4","strokeWidth":1.8}},{"data":{"name":"b113"},"mark":{"type":"line","color":"#ff7f0e","strokeWidth":1.3,"strokeDash":[4,2]}}]},
{"width":82,"height":29.5,"encoding":{"x":{"field":"t","type":"quantitative","scale":{"domain":[0,3],"nice":false},"axis":{"values":[0,2],"title":"time"}},"y":{"field":"v","type":"quantitative","scale":{"domain":[-8.5,6.5],"nice":false,"zero":false},"axis":{"values":[-5,0,5],"format":"d","title":"k = 12"}}},"layer":[{"data":{"name":"a121"},"mark":{"type":"line","color":"#1f77b4","strokeWidth":1.8}},{"data":{"name":"b121"},"mark":{"type":"line","color":"#ff7f0e","strokeWidth":1.3,"strokeDash":[4,2]}}]},
{"width":82,"height":29.5,"encoding":{"x":{"field":"t","type":"quantitative","scale":{"domain":[0,3],"nice":false},"axis":{"values":[0,2],"title":"time"}},"y":{"field":"v","type":"quantitative","scale":{"domain":[-6.5,11.2],"nice":false,"zero":false},"axis":{"values":[0,10],"format":"d","title":null}}},"layer":[{"data":{"name":"a122"},"mark":{"type":"line","color":"#1f77b4","strokeWidth":1.8}},{"data":{"name":"b122"},"mark":{"type":"line","color":"#ff7f0e","strokeWidth":1.3,"strokeDash":[4,2]}}]},
{"width":82,"height":29.5,"encoding":{"x":{"field":"t","type":"quantitative","scale":{"domain":[0,3],"nice":false},"axis":{"values":[0,2],"title":"time"}},"y":{"field":"v","type":"quantitative","scale":{"domain":[-5.5,3.75],"nice":false,"zero":false},"axis":{"values":[-5,0],"format":"d","title":null}}},"layer":[{"data":{"name":"a123"},"mark":{"type":"line","color":"#1f77b4","strokeWidth":1.8}},{"data":{"name":"b123"},"mark":{"type":"line","color":"#ff7f0e","strokeWidth":1.3,"strokeDash":[4,2]}}]}
]
}
